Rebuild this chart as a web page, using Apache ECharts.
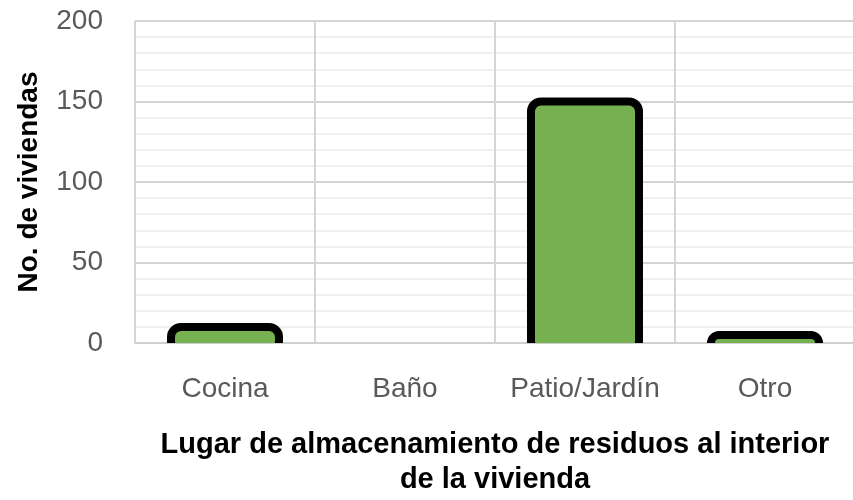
<!DOCTYPE html>
<html>
<head>
<meta charset="utf-8">
<script src="https://cdn.jsdelivr.net/npm/echarts@6/dist/echarts.min.js"></script>
<style>
  html, body { margin: 0; padding: 0; background: #fff; }
  #chart { width: 853px; height: 500px; }
</style>
</head>
<body>
<div id="chart"></div>
<script>
  var categories = ['Cocina', 'Baño', 'Patio/Jardín', 'Otro'];
  var viviendas = [10, 0, 150, 5];
  var yTicks = [0, 50, 100, 150, 200];

  var font = "'Liberation Sans', Arial, sans-serif";

  var myChart = echarts.init(document.getElementById('chart'));
  myChart.setOption({
    animation: false,
    grid: {
      left: 135,
      top: 21,
      width: 720,
      height: 322,
      outerBoundsMode: 'none'
    },
    xAxis: {
      type: 'category',
      data: categories,
      axisTick: { show: false },
      axisLine: { lineStyle: { color: '#d0d0d0', width: 2 } },
      axisLabel: {
        interval: 0,
        margin: 32,
        color: '#595959',
        fontSize: 28,
        fontFamily: font
      },
      splitLine: { show: true, interval: 0, lineStyle: { color: '#d4d4d4', width: 2 } },
      name: 'Lugar de almacenamiento de residuos al interior\nde la vivienda',
      nameLocation: 'middle',
      nameGap: 84,
      nameTextStyle: {
        color: '#000',
        fontSize: 29,
        fontWeight: 'bold',
        fontFamily: font,
        lineHeight: 35
      }
    },
    yAxis: {
      type: 'value',
      min: yTicks[0],
      max: yTicks[yTicks.length - 1],
      interval: 50,
      axisLine: { show: false },
      axisTick: { show: false },
      axisLabel: {
        margin: 32,
        color: '#595959',
        fontSize: 28,
        fontFamily: font
      },
      splitLine: { lineStyle: { color: '#d4d4d4', width: 2 } },
      minorTick: { show: false, splitNumber: 5 },
      minorSplitLine: { show: true, lineStyle: { color: '#ececec', width: 1.5 } },
      name: 'No. de viviendas',
      nameLocation: 'middle',
      nameGap: 92,
      nameTextStyle: {
        color: '#000',
        fontSize: 28,
        fontWeight: 'bold',
        fontFamily: font
      }
    },
    series: [{
      type: 'custom',
      clip: true,
      data: viviendas.map(function (v, i) { return [i, v]; }),
      renderItem: function (params, api) {
        var v = api.value(1);
        if (!v) return null;
        var top = api.coord([api.value(0), v]);
        var base = api.coord([api.value(0), 0]);
        var w = api.size([1, 0])[0] * 0.6;
        return {
          type: 'rect',
          shape: { x: top[0] - w / 2, y: top[1], width: w, height: base[1] - top[1] + 8, r: 10 },
          style: { fill: '#77b050', stroke: '#000', lineWidth: 8 }
        };
      }
    }]
  });
</script>
</body>
</html>
